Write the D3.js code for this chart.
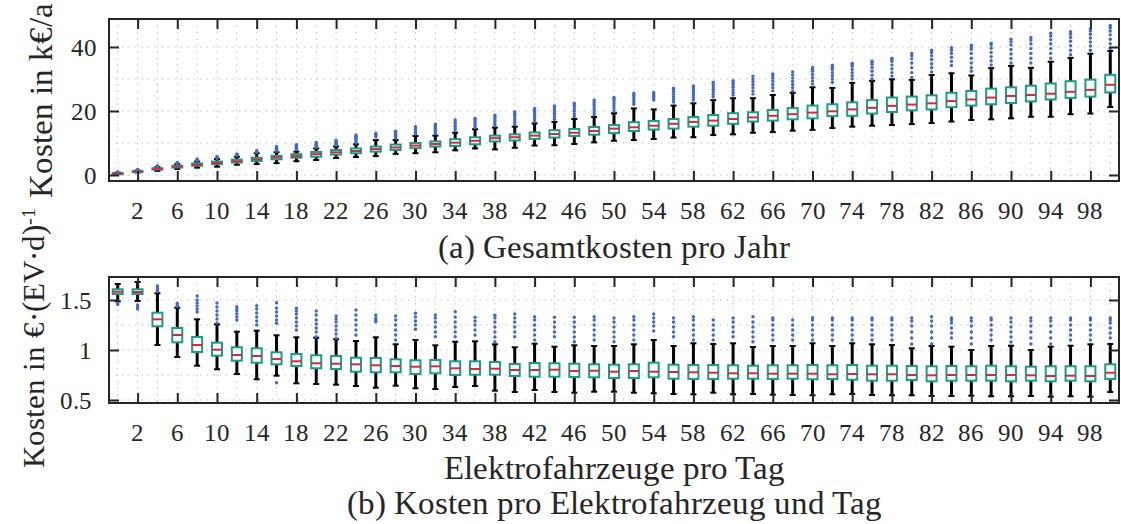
<!DOCTYPE html>
<html>
<head>
<meta charset="utf-8">
<script src="https://cdn.jsdelivr.net/npm/d3@7"></script>
<style>
  @font-face {
    font-family: "ChartSerif";
    src: local("Liberation Serif"), local("LiberationSerif"), local("LiberationSerif-Regular"), local("Times New Roman");
  }
  html, body { margin: 0; padding: 0; background: #fff; }
  #chart { display: block; }
</style>
</head>
<body>
<svg id="chart" width="1121" height="524"></svg>
<script>
// Number of electric vehicles per day (one box per value)
const categories = [1, 2, 4, 6, 8, 10, 12, 14, 16, 18, 20, 22, 24, 26, 28, 30, 32, 34, 36, 38, 40,
  42, 44, 46, 48, 50, 52, 54, 56, 58, 60, 62, 64, 66, 68, 70, 72, 74, 76, 78, 80,
  82, 84, 86, 88, 90, 92, 94, 96, 98, 100];
const xTickLabels = [2, 6, 10, 14, 18, 22, 26, 30, 34, 38, 42, 46, 50, 54, 58, 62, 66, 70, 74, 78, 82, 86, 90, 94, 98];

// (a) Total cost per year, k€/a
const annualLow = [0.25, 0.8, 1.3, 1.9, 2.3, 2.6, 3.2, 3.4, 3.7, 4.3, 4.7, 5.3, 5.6, 5.9, 6.6, 6.8, 7.1, 7.7, 8.3, 8.0,
  8.5, 9.2, 9.3, 9.7, 10.2, 10.7, 10.9, 11.25, 11.7, 11.8, 12.5, 12.7, 13.2, 13.4, 13.85, 14.1, 14.7, 15.1, 15.4, 15.6,
  15.9, 16.25, 16.7, 17.2, 17.4, 17.7, 18.2, 18.2, 19.0, 19.2, 21.25];
const annualQ1 = [0.42, 1.0, 1.7, 2.35, 2.9, 3.4, 3.9, 4.4, 4.9, 5.4, 5.7, 6.4, 6.8, 7.3, 7.8, 8.4, 8.9, 9.1, 9.6, 10.5,
  10.8, 11.3, 11.7, 12.2, 12.6, 13.1, 13.75, 14.2, 14.5, 15.1, 15.4, 16.0, 16.7, 17.0, 17.4, 17.7, 18.4, 18.5, 19.2, 19.7,
  20.2, 20.5, 21.2, 21.7, 22.1, 22.5, 23.0, 23.6, 24.1, 24.5, 25.8];
const annualMedian = [0.5, 1.1, 1.9, 2.6, 3.2, 3.75, 4.3, 4.9, 5.5, 5.9, 6.5, 7.1, 7.5, 8.1, 8.6, 9.2, 9.7, 10.1, 10.7, 11.5,
  11.8, 12.3, 12.8, 13.2, 13.75, 14.5, 14.9, 15.4, 16.0, 16.6, 17.0, 17.5, 18.0, 18.5, 19.0, 19.5, 19.9, 20.5, 21.0, 21.6,
  22.0, 22.4, 23.1, 23.6, 24.2, 24.7, 25.0, 25.4, 26.0, 26.6, 28.2];
const annualQ3 = [0.58, 1.2, 2.1, 2.9, 3.6, 4.2, 4.8, 5.4, 6.0, 6.5, 7.2, 7.8, 8.3, 8.9, 9.5, 10.0, 10.5, 11.2, 11.8, 12.3,
  12.7, 13.3, 14.0, 14.4, 15.0, 15.6, 16.5, 16.9, 17.5, 18.1, 18.75, 19.3, 19.6, 20.3, 20.9, 21.7, 22.1, 22.7, 23.4, 24.2,
  24.5, 24.9, 25.7, 26.25, 27.0, 27.4, 27.9, 28.6, 29.3, 29.8, 31.3];
const annualHigh = [0.75, 1.4, 2.5, 3.4, 4.2, 5.0, 5.7, 6.8, 7.1, 7.3, 8.3, 8.9, 9.6, 10.9, 10.9, 12.2, 12.3, 13.2, 14.3, 14.8,
  15.1, 16.1, 16.6, 17.5, 18.1, 19.3, 20.8, 20.5, 21.7, 22.4, 23.4, 24.0, 24.0, 25.0, 25.7, 27.4, 27.2, 28.8, 29.4, 29.9,
  29.7, 31.25, 31.8, 31.1, 33.4, 34.1, 33.5, 35.4, 36.6, 37.9, 38.8];
const annualOutliers = [
  [0.85, 0.95], [1.5, 1.6, 1.7], [2.6, 2.75, 2.9], [3.5, 3.7, 3.9], [4.4, 4.6, 4.8, 5.0],
  [5.2, 5.4, 5.6, 5.8], [6.0, 6.2, 6.4, 6.6], [7.0, 7.2, 7.4, 7.6], [7.4, 7.7, 8.0, 8.3, 8.6, 8.9],
  [8.0, 8.3, 8.6, 8.9, 9.2, 9.5], [8.6, 8.9, 9.2, 9.5, 9.8, 10.2], [9.3, 9.6, 9.9, 10.2, 10.5, 10.9],
  [10.0, 10.5, 11.0, 11.4, 11.8, 12.1, 12.5], [11.9, 12.3, 12.7, 13.0], [11.5, 12.0, 12.4, 12.8, 13.2, 13.7],
  [12.8, 13.3, 13.8, 14.2, 14.7, 15.1], [12.9, 13.4, 14.0, 14.6, 15.1, 15.5, 15.9], [13.8, 14.5, 15.2, 15.9, 16.5, 17.2],
  [14.8, 15.4, 16.0, 16.6, 17.2, 17.7], [15.4, 16.0, 16.7, 17.3, 18.0, 18.7], [15.8, 16.5, 17.3, 18.0, 18.7, 19.3, 19.8],
  [16.8, 17.5, 18.2, 18.9, 19.6, 20.2, 20.8], [17.4, 18.2, 19.0, 19.7, 20.4, 21.0, 21.6], [18.3, 19.1, 19.9, 20.6, 21.3, 21.9, 22.4],
  [18.9, 19.7, 20.5, 21.3, 22.0, 22.7, 23.4], [20.1, 20.9, 21.7, 22.5, 23.2, 23.8, 24.2], [22.1, 22.8, 23.5, 24.2, 24.9, 25.5],
  [23.4, 24.0, 24.6, 25.2, 25.8], [22.8, 23.6, 24.4, 25.2, 26.0, 26.6, 27.1], [23.4, 24.2, 25.0, 25.8, 26.6, 27.3, 27.8],
  [24.4, 25.2, 26.0, 26.8, 27.6, 28.3, 29.0], [25.0, 25.8, 26.6, 27.4, 28.2, 28.9, 29.5], [25.3, 26.3, 27.3, 28.3, 29.2, 30.1, 30.9],
  [26.3, 27.3, 28.3, 29.3, 30.2, 31.0, 31.6], [26.3, 27.3, 28.3, 29.3, 30.3, 31.3, 32.2], [28.4, 29.4, 30.4, 31.4, 32.4, 33.0, 33.5],
  [29.0, 30.0, 31.0, 32.0, 33.0, 33.7, 34.3], [30.0, 31.0, 32.0, 33.0, 34.0, 34.5, 34.9], [30.0, 31.2, 32.4, 33.6, 34.6, 35.2, 35.6],
  [30.9, 32.0, 33.2, 34.4, 35.5, 36.1, 36.5], [30.5, 32.0, 33.5, 35.0, 36.3, 37.3, 38.0], [32.2, 33.5, 34.8, 36.1, 37.3, 38.3, 39.0],
  [34.2, 35.5, 36.8, 38.0, 39.0, 39.8], [32.4, 33.5, 35.0, 36.5, 38.0, 39.3, 40.1, 40.6], [34.4, 35.7, 37.0, 38.3, 39.6, 40.6, 41.2],
  [35.0, 36.4, 37.8, 39.2, 40.6, 41.6, 42.4], [35.0, 36.5, 38.0, 39.5, 41.0, 42.2, 43.0], [36.5, 38.0, 39.5, 41.0, 42.3, 43.4, 44.3],
  [37.6, 39.0, 40.4, 41.8, 43.0, 44.0, 44.8], [39.0, 40.3, 41.6, 42.8, 44.0, 45.0, 45.6], [39.6, 41.0, 42.4, 43.8, 45.0, 46.0, 46.7]
];

// (b) Cost per electric vehicle and day, €/(EV·d)
const perEvLow = [1.487, 1.49, 1.05, 0.93, 0.843, 0.807, 0.76, 0.707, 0.743, 0.667, 0.66, 0.653, 0.64, 0.623, 0.643, 0.617, 0.61,
  0.63, 0.64, 0.593, 0.58, 0.60, 0.58, 0.573, 0.583, 0.583, 0.573, 0.567, 0.56, 0.557, 0.573, 0.557, 0.56, 0.553, 0.55,
  0.547, 0.557, 0.56, 0.55, 0.547, 0.547, 0.54, 0.54, 0.543, 0.537, 0.537, 0.54, 0.533, 0.537, 0.533, 0.58];
const perEvQ1 = [1.56, 1.56, 1.237, 1.077, 0.98, 0.943, 0.893, 0.873, 0.857, 0.84, 0.817, 0.81, 0.783, 0.777, 0.777, 0.76, 0.767,
  0.75, 0.753, 0.753, 0.74, 0.733, 0.733, 0.73, 0.727, 0.72, 0.72, 0.727, 0.713, 0.71, 0.71, 0.713, 0.713, 0.71, 0.713,
  0.707, 0.71, 0.703, 0.693, 0.693, 0.70, 0.687, 0.693, 0.693, 0.693, 0.687, 0.693, 0.687, 0.693, 0.687, 0.71];
const perEvMedian = [1.583, 1.58, 1.307, 1.15, 1.05, 1.003, 0.95, 0.94, 0.91, 0.887, 0.867, 0.863, 0.857, 0.847, 0.84, 0.833, 0.837,
  0.817, 0.81, 0.813, 0.80, 0.80, 0.803, 0.79, 0.793, 0.783, 0.79, 0.783, 0.78, 0.777, 0.773, 0.767, 0.767, 0.763, 0.763,
  0.763, 0.757, 0.76, 0.757, 0.757, 0.75, 0.747, 0.75, 0.75, 0.75, 0.75, 0.747, 0.74, 0.743, 0.74, 0.773];
const perEvQ3 = [1.607, 1.607, 1.373, 1.22, 1.13, 1.073, 1.027, 1.017, 0.977, 0.96, 0.947, 0.94, 0.923, 0.92, 0.907, 0.897, 0.90,
  0.887, 0.887, 0.88, 0.86, 0.87, 0.867, 0.863, 0.857, 0.853, 0.857, 0.873, 0.853, 0.85, 0.85, 0.847, 0.843, 0.847, 0.847,
  0.85, 0.847, 0.85, 0.843, 0.843, 0.84, 0.837, 0.84, 0.837, 0.843, 0.837, 0.833, 0.837, 0.837, 0.837, 0.857];
const perEvHigh = [1.66, 1.68, 1.567, 1.423, 1.307, 1.257, 1.183, 1.193, 1.147, 1.127, 1.123, 1.107, 1.09, 1.127, 1.057, 1.10, 1.047,
  1.083, 1.087, 1.057, 1.027, 1.063, 1.033, 1.047, 1.04, 1.04, 1.057, 1.10, 1.04, 1.067, 1.06, 1.067, 1.03, 1.04, 1.04,
  1.067, 1.04, 1.067, 1.057, 1.05, 1.017, 1.04, 1.033, 1.0, 1.04, 1.043, 1.0, 1.033, 1.043, 1.057, 1.06];
const perEvOutliers = [
  [1.47, 1.455], [1.45, 1.43, 1.41], [1.585, 1.60, 1.62, 1.64], [1.435, 1.45, 1.467],
  [1.38, 1.41, 1.44, 1.47, 1.50, 1.54], [1.27, 1.31, 1.35, 1.39, 1.43, 1.47], [1.30, 1.33, 1.36, 1.39, 1.41, 1.433],
  [1.25, 1.29, 1.33, 1.37, 1.41, 1.443], [0.673, 1.267, 1.30, 1.34, 1.38, 1.42, 1.473], [1.20, 1.24, 1.28, 1.32, 1.36, 1.39, 1.417],
  [1.133, 1.18, 1.22, 1.26, 1.30, 1.35, 1.39], [1.117, 1.16, 1.20, 1.24, 1.28, 1.31, 1.34], [1.15, 1.20, 1.25, 1.30, 1.35, 1.40],
  [1.283, 1.30, 1.32, 1.35], [1.10, 1.15, 1.20, 1.25, 1.30, 1.34], [1.207, 1.25, 1.29, 1.33, 1.367],
  [1.133, 1.18, 1.23, 1.28, 1.32, 1.35], [1.133, 1.18, 1.23, 1.28, 1.33, 1.383], [1.15, 1.20, 1.25, 1.29, 1.327],
  [1.083, 1.13, 1.18, 1.23, 1.28, 1.32, 1.347], [1.133, 1.18, 1.23, 1.28, 1.32, 1.36], [1.10, 1.15, 1.20, 1.25, 1.30, 1.333],
  [1.133, 1.18, 1.23, 1.28, 1.327], [1.083, 1.13, 1.18, 1.23, 1.28, 1.327], [1.10, 1.15, 1.20, 1.25, 1.30, 1.333],
  [1.083, 1.13, 1.18, 1.23, 1.28, 1.32], [1.10, 1.15, 1.20, 1.25, 1.30, 1.333], [1.19, 1.24, 1.28, 1.32, 1.36],
  [1.133, 1.18, 1.23, 1.28, 1.32], [1.10, 1.15, 1.20, 1.25, 1.30, 1.333], [1.10, 1.15, 1.20, 1.25, 1.30],
  [1.133, 1.18, 1.23, 1.28, 1.32], [1.083, 1.13, 1.18, 1.23, 1.28, 1.333], [1.10, 1.15, 1.20, 1.25, 1.30, 1.32],
  [1.10, 1.15, 1.20, 1.25, 1.30], [1.10, 1.15, 1.20, 1.25, 1.30, 1.323], [1.10, 1.15, 1.20, 1.25, 1.30, 1.32],
  [1.10, 1.15, 1.20, 1.25, 1.30, 1.32], [1.10, 1.15, 1.20, 1.25, 1.30, 1.32], [1.10, 1.15, 1.20, 1.25, 1.30, 1.32],
  [1.06, 1.12, 1.18, 1.24, 1.29, 1.32], [1.06, 1.12, 1.18, 1.24, 1.29, 1.333], [1.12, 1.17, 1.22, 1.27, 1.30, 1.32],
  [1.06, 1.12, 1.18, 1.24, 1.29, 1.32], [1.10, 1.15, 1.20, 1.25, 1.30, 1.32], [1.08, 1.13, 1.18, 1.23, 1.28, 1.32],
  [1.06, 1.12, 1.18, 1.24, 1.29, 1.32], [1.06, 1.12, 1.18, 1.24, 1.29, 1.32], [1.10, 1.15, 1.20, 1.25, 1.30, 1.32],
  [1.10, 1.15, 1.20, 1.25, 1.30, 1.32], [1.12, 1.17, 1.22, 1.27, 1.30, 1.32]
];

const annualYTicks = [0, 20, 40];
const annualGrid = [0, 10, 20, 30, 40];
const perEvYTicks = [0.5, 1, 1.5];
const perEvGrid = [0.5, 0.75, 1, 1.25, 1.5];

const FONT = "ChartSerif, 'Liberation Serif', 'Times New Roman', serif";
const COLORS = { box: "#1a9c86", median: "#d42a3c", whisker: "#000", outlier: "#4468c4", frame: "#262626", grid: "#c4c4c4", text: "#262626" };

const svg = d3.select("#chart");
const left = 109, right = 1119;
const x = d3.scalePoint().domain(categories).range([left, right]).padding(0.44);

function addText(parent, size) {
  return parent.append("text").style("font-family", FONT).style("font-size", size + "px").attr("fill", COLORS.text);
}

function drawPanel(cfg) {
  const { top, bottom, y, yTicks, grid, tickPad, low, q1, med, q3, high, outliers } = cfg;
  const g = svg.append("g");

  // dotted grid
  g.append("g").selectAll("line").data(categories).join("line")
    .attr("x1", d => x(d)).attr("x2", d => x(d)).attr("y1", top).attr("y2", bottom)
    .attr("stroke", COLORS.grid).attr("stroke-width", 1).attr("stroke-dasharray", "1.5,5");
  g.append("g").selectAll("line").data(grid).join("line")
    .attr("x1", left).attr("x2", right).attr("y1", d => y(d)).attr("y2", d => y(d))
    .attr("stroke", COLORS.grid).attr("stroke-width", 1).attr("stroke-dasharray", "1.5,5");

  const rows = categories.map((c, i) => ({ c, low: low[i], q1: q1[i], med: med[i], q3: q3[i], high: high[i], out: outliers[i] }));
  const bw = 10, cw = 6;

  // whiskers
  g.append("g").selectAll("line").data(rows).join("line")
    .attr("x1", d => x(d.c)).attr("x2", d => x(d.c))
    .attr("y1", d => y(d.low)).attr("y2", d => y(d.high))
    .attr("stroke", COLORS.whisker).attr("stroke-width", 3);
  // whisker caps
  const caps = g.append("g");
  caps.selectAll("line.lo").data(rows).join("line").attr("class", "lo")
    .attr("x1", d => x(d.c) - cw / 2).attr("x2", d => x(d.c) + cw / 2)
    .attr("y1", d => y(d.low)).attr("y2", d => y(d.low))
    .attr("stroke", COLORS.whisker).attr("stroke-width", 2);
  caps.selectAll("line.hi").data(rows).join("line").attr("class", "hi")
    .attr("x1", d => x(d.c) - cw / 2).attr("x2", d => x(d.c) + cw / 2)
    .attr("y1", d => y(d.high)).attr("y2", d => y(d.high))
    .attr("stroke", COLORS.whisker).attr("stroke-width", 2);
  // boxes
  g.append("g").selectAll("rect").data(rows).join("rect")
    .attr("x", d => x(d.c) - bw / 2).attr("width", bw)
    .attr("y", d => y(d.q3)).attr("height", d => Math.max(1, y(d.q1) - y(d.q3)))
    .attr("fill", "#fff").attr("stroke", COLORS.box).attr("stroke-width", 2);
  // medians
  g.append("g").selectAll("line").data(rows).join("line")
    .attr("x1", d => x(d.c) - bw / 2).attr("x2", d => x(d.c) + bw / 2)
    .attr("y1", d => y(d.med)).attr("y2", d => y(d.med))
    .attr("stroke", COLORS.median).attr("stroke-width", 2);
  // outliers
  g.append("g").selectAll("g").data(rows).join("g")
    .selectAll("circle").data(d => d.out.map(v => ({ c: d.c, v }))).join("circle")
    .attr("cx", d => x(d.c)).attr("cy", d => y(d.v)).attr("r", 1.7)
    .attr("fill", COLORS.outlier);

  // frame
  g.append("rect").attr("x", left).attr("y", top).attr("width", right - left).attr("height", bottom - top)
    .attr("fill", "none").attr("stroke", COLORS.frame).attr("stroke-width", 2);

  // inward tick marks on all four sides
  const tickAxes = [
    [d3.axisBottom(x).tickValues(xTickLabels), `translate(0,${bottom})`],
    [d3.axisTop(x).tickValues(xTickLabels), `translate(0,${top})`],
    [d3.axisLeft(y).tickValues(yTicks), `translate(${left},0)`],
    [d3.axisRight(y).tickValues(yTicks), `translate(${right},0)`]
  ];
  tickAxes.forEach(([axis, tr]) => {
    const a = g.append("g").attr("transform", tr).call(axis.tickSize(-10).tickFormat(""));
    a.attr("font-family", null).attr("font-size", null);
    a.select(".domain").remove();
    a.selectAll(".tick text").remove();
    a.selectAll(".tick line").attr("stroke", COLORS.frame).attr("stroke-width", 2);
  });

  // tick labels
  xTickLabels.forEach(v => {
    addText(g, 25).attr("x", x(v)).attr("y", bottom + 38).attr("text-anchor", "middle").text(String(v));
  });
  yTicks.forEach(v => {
    addText(g, 25).attr("x", left - tickPad).attr("y", y(v)).attr("dy", "0.34em").attr("text-anchor", "end").text(String(v));
  });
}

// (a) panel
const yA = d3.scaleLinear().domain([-1.875, 48.75]).range([181, 19]);
drawPanel({ top: 19, bottom: 181, y: yA, yTicks: annualYTicks, grid: annualGrid, tickPad: 12,
  low: annualLow, q1: annualQ1, med: annualMedian, q3: annualQ3, high: annualHigh, outliers: annualOutliers });

// (b) panel
const yB = d3.scaleLinear().domain([0.47, 1.73]).range([403, 277]);
drawPanel({ top: 277, bottom: 403, y: yB, yTicks: perEvYTicks, grid: perEvGrid, tickPad: 17,
  low: perEvLow, q1: perEvQ1, med: perEvMedian, q3: perEvQ3, high: perEvHigh, outliers: perEvOutliers });

// axis labels and captions
const cx = (left + right) / 2;
addText(svg, 33).attr("transform", "translate(52,100) rotate(-90)").attr("text-anchor", "middle")
  .text("Kosten in k€/a");
const yl = addText(svg, 31).attr("transform", "translate(44,338) rotate(-90)").attr("text-anchor", "middle");
yl.append("tspan").text("Kosten in €·(EV·d)");
yl.append("tspan").attr("dy", "-0.45em").style("font-size", "20px").text("-1");

addText(svg, 33).attr("x", cx).attr("y", 258).attr("text-anchor", "middle").text("(a) Gesamtkosten pro Jahr");
addText(svg, 33).attr("x", cx).attr("y", 479).attr("text-anchor", "middle").text("Elektrofahrzeuge pro Tag");
addText(svg, 33).attr("x", cx).attr("y", 514).attr("text-anchor", "middle").text("(b) Kosten pro Elektrofahrzeug und Tag");
</script>
</body>
</html>
